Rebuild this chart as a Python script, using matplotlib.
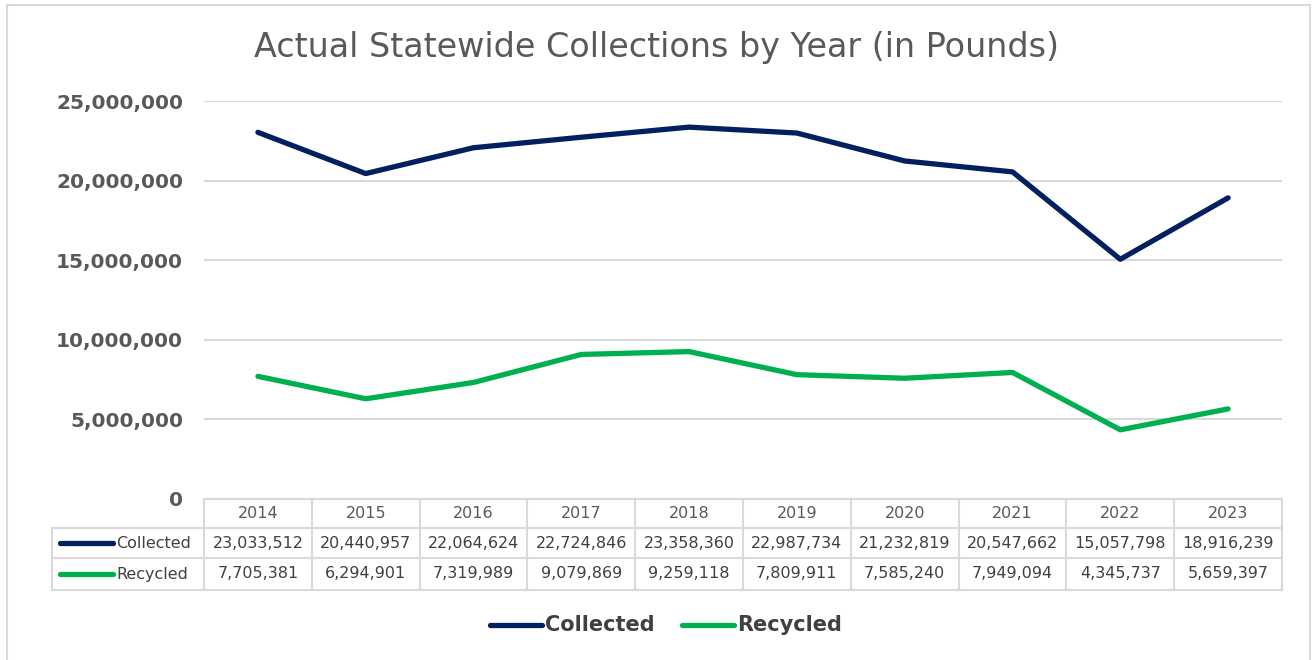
import matplotlib.pyplot as plt
from matplotlib.lines import Line2D
from matplotlib.patches import Rectangle
from matplotlib.transforms import blended_transform_factory

# Chart data
years = ['2014', '2015', '2016', '2017', '2018', '2019', '2020', '2021', '2022', '2023']
collected = [23033512, 20440957, 22064624, 22724846, 23358360,
             22987734, 21232819, 20547662, 15057798, 18916239]
recycled = [7705381, 6294901, 7319989, 9079869, 9259118,
            7809911, 7585240, 7949094, 4345737, 5659397]
series_names = ['Collected', 'Recycled']
y_ticks = [0, 5000000, 10000000, 15000000, 20000000, 25000000]

NAVY = '#002060'
GREEN = '#00B050'
GRID = '#D9D9D9'
TEXT = '#595959'

W, H = 1312, 660
plt.rcParams['font.family'] = ['DejaVu Sans']

fig = plt.figure(figsize=(W / 100, H / 100), dpi=100)


def fy(py):
    # pixel row (from top) -> figure fraction
    return 1 - py / H


def fx(px):
    return px / W


# outer chart border
fig.patches.append(Rectangle((fx(7), fy(668)), fx(1310) - fx(7), fy(5) - fy(668),
                             transform=fig.transFigure, fill=False,
                             edgecolor=GRID, linewidth=1.5))

left, right, top, bottom = 204, 1282, 101, 499
ax = fig.add_axes([fx(left), fy(bottom), fx(right) - fx(left), fy(top) - fy(bottom)])

x = list(range(len(years)))
ax.plot(x, collected, color=NAVY, linewidth=3.8, solid_capstyle='round', solid_joinstyle='round')
ax.plot(x, recycled, color=GREEN, linewidth=3.8, solid_capstyle='round', solid_joinstyle='round')

ax.set_xlim(-0.5, len(years) - 0.5)
ax.set_ylim(0, 25000000)
ax.set_yticks(y_ticks)
ax.set_yticklabels([f'{v:,}' for v in y_ticks], fontsize=14.5, color=TEXT, fontweight='bold')
ax.tick_params(axis='y', length=0, pad=15)
ax.set_xticks([])
ax.grid(axis='y', color=GRID, linewidth=1.5)
ax.set_axisbelow(True)
for s in ax.spines.values():
    s.set_visible(False)

fig.text(fx(657), fy(48), 'Actual Statewide Collections by Year (in Pounds)',
         ha='center', va='center', fontsize=24, color=TEXT)

# data table under the plot
tr = blended_transform_factory(ax.transData, fig.transFigure)
row_y = [499, 528, 558, 590]
label_left = -0.5 - (left - 52) / ((right - left) / len(years))

for i, py in enumerate(row_y):
    x0 = -0.5 if i == 0 else label_left
    ax.add_line(Line2D([x0, len(years) - 0.5], [fy(py), fy(py)], transform=tr,
                       color=GRID, linewidth=1.5, clip_on=False))
for k in range(len(years) + 1):
    ax.add_line(Line2D([k - 0.5, k - 0.5], [fy(499), fy(590)], transform=tr,
                       color=GRID, linewidth=1.5, clip_on=False))
ax.add_line(Line2D([label_left, label_left], [fy(528), fy(590)], transform=tr,
                   color=GRID, linewidth=1.5, clip_on=False))

for k, yr in enumerate(years):
    ax.text(k, fy(514), yr, transform=tr, ha='center', va='center',
            fontsize=11.5, color=TEXT)
    ax.text(k, fy(543), f'{collected[k]:,}', transform=tr, ha='center', va='center',
            fontsize=11.5, color='#404040')
    ax.text(k, fy(574), f'{recycled[k]:,}', transform=tr, ha='center', va='center',
            fontsize=11.5, color='#404040')

for name, color, py in [(series_names[0], NAVY, 543), (series_names[1], GREEN, 574)]:
    fig.lines.append(Line2D([fx(60), fx(113)], [fy(py), fy(py)], transform=fig.transFigure,
                            color=color, linewidth=3.8, solid_capstyle='round'))
    fig.text(fx(116), fy(py), name, ha='left', va='center', fontsize=11.5, color='#404040')

# legend at the bottom
for name, color, x0 in [(series_names[0], NAVY, 490), (series_names[1], GREEN, 682)]:
    fig.lines.append(Line2D([fx(x0), fx(x0 + 52)], [fy(625), fy(625)], transform=fig.transFigure,
                            color=color, linewidth=3.8, solid_capstyle='round'))
    fig.text(fx(x0 + 55), fy(625), name, ha='left', va='center', fontsize=15,
             color='#404040', fontweight='semibold')

fig.savefig('out.png', dpi=100)
